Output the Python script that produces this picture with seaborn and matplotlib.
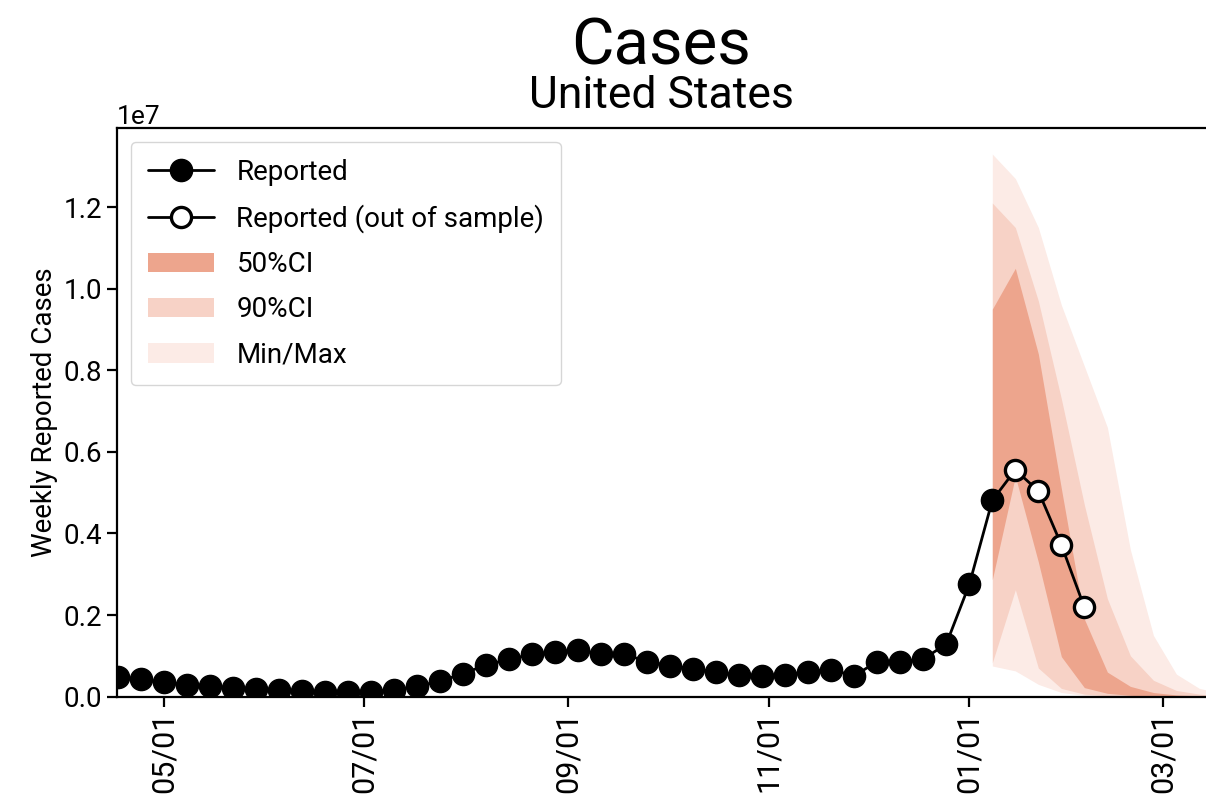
import pandas as pd
import matplotlib
matplotlib.use('Agg')
import matplotlib.pyplot as plt
import matplotlib.dates as mdates
import seaborn as sns

# weekly reported cases in millions, one value per Saturday from 2021-04-17
reported_start = '2021-04-17'
reported = [0.47, 0.42, 0.35, 0.29, 0.25, 0.21, 0.19, 0.15, 0.14, 0.12,
            0.12, 0.12, 0.17, 0.25, 0.38, 0.56, 0.78, 0.91, 1.04, 1.09,
            1.15, 1.04, 1.04, 0.86, 0.76, 0.68, 0.60, 0.52, 0.51, 0.54,
            0.61, 0.66, 0.51, 0.86, 0.86, 0.92, 1.29, 2.75, 4.81]

# out of sample weeks
oos_start = '2022-01-15'
reported_oos = [5.56, 5.04, 3.72, 2.19]

# forecast bands (millions), weekly from 2022-01-08
band_start = '2022-01-08'
ci50_low = [2.87, 5.40, 3.30, 0.98, 0.22, 0.08, 0.03, 0.01, 0.005, 0.0, 0.0]
ci50_high = [9.50, 10.50, 8.40, 5.10, 1.90, 0.60, 0.25, 0.10, 0.04, 0.02, 0.01]
ci90_low = [0.83, 2.62, 0.70, 0.20, 0.06, 0.02, 0.01, 0.0, 0.0, 0.0, 0.0]
ci90_high = [12.10, 11.50, 9.70, 7.30, 4.70, 2.40, 1.00, 0.40, 0.15, 0.06, 0.02]
mm_low = [0.75, 0.63, 0.30, 0.10, 0.03, 0.01, 0.0, 0.0, 0.0, 0.0, 0.0]
mm_high = [13.30, 12.70, 11.50, 9.60, 8.10, 6.60, 3.60, 1.50, 0.55, 0.20, 0.08]

sns.set_theme(style='ticks')
plt.rcParams['font.family'] = ['Roboto', 'DejaVu Sans']
plt.rcParams['font.size'] = 20
for key in ['text.color', 'axes.labelcolor', 'xtick.color', 'ytick.color', 'axes.edgecolor']:
    plt.rcParams[key] = 'black'
plt.rcParams['axes.linewidth'] = 1.6
plt.rcParams['xtick.major.width'] = 1.6
plt.rcParams['ytick.major.width'] = 1.6
plt.rcParams['xtick.major.size'] = 7
plt.rcParams['ytick.major.size'] = 7

rep = pd.DataFrame({'date': pd.date_range(reported_start, periods=len(reported), freq='7D'),
                    'cases': [v * 1e6 for v in reported]})
oos = pd.DataFrame({'date': pd.date_range(oos_start, periods=len(reported_oos), freq='7D'),
                    'cases': [v * 1e6 for v in reported_oos]})
band = pd.DataFrame({'date': pd.date_range(band_start, periods=len(ci50_low), freq='7D')})
for name, vals in [('l50', ci50_low), ('h50', ci50_high), ('l90', ci90_low),
                   ('h90', ci90_high), ('lmm', mm_low), ('hmm', mm_high)]:
    band[name] = [v * 1e6 for v in vals]

fig, ax = plt.subplots(figsize=(12.06, 8.1), dpi=100)
fig.subplots_adjust(left=0.097, right=1.0, bottom=0.14, top=0.842)

# bands
ax.fill_between(band['date'], band['lmm'], band['hmm'], color='#fcebe6', lw=0, label='Min/Max', zorder=1)
ax.fill_between(band['date'], band['l90'], band['h90'], color='#f7d2c6', lw=0, label='90%CI', zorder=1)
ax.fill_between(band['date'], band['l50'], band['h50'], color='#eda58d', lw=0, label='50%CI', zorder=1)

# line joining in-sample and out-of-sample
ax.plot([rep['date'].iloc[-1], oos['date'].iloc[0]], [rep['cases'].iloc[-1], oos['cases'].iloc[0]],
        color='black', lw=2, zorder=3)

sns.lineplot(data=rep, x='date', y='cases', ax=ax, color='black', lw=2, marker='o',
             markersize=16, markeredgecolor='black', markeredgewidth=1, label='Reported', zorder=4)
sns.lineplot(data=oos, x='date', y='cases', ax=ax, color='black', lw=2, marker='o',
             markersize=14.5, markerfacecolor='white', markeredgecolor='black', markeredgewidth=2.4,
             label='Reported (out of sample)', zorder=5)

handles, labels = ax.get_legend_handles_labels()
lookup = dict(zip(labels, handles))
order = ['Reported', 'Reported (out of sample)', '50%CI', '90%CI', 'Min/Max']
ax.legend([lookup[k] for k in order], order, loc='upper left', fontsize=20, handlelength=2.4,
          labelspacing=0.66, borderpad=0.6)

ax.set_xlim(pd.Timestamp('2021-04-16 17:00'), pd.Timestamp('2022-03-14'))
ax.set_ylim(0, 1.394e7)
ax.xaxis.set_major_locator(mdates.MonthLocator(bymonth=[1, 3, 5, 7, 9, 11]))
ax.xaxis.set_major_formatter(mdates.DateFormatter('%m/%d'))
ax.tick_params(axis='x', labelrotation=90, labelsize=22)
ax.tick_params(axis='y', labelsize=20)
ax.yaxis.get_offset_text().set_fontsize(19)
ax.spines['right'].set_visible(False)
ax.set_xlabel('')
ax.set_ylabel('Weekly Reported Cases', fontsize=20)

ax.text(0.5, 1.111, 'Cases', transform=ax.transAxes, ha='center', va='baseline', fontsize=47)
ax.text(0.5, 1.035, 'United States', transform=ax.transAxes, ha='center', va='baseline', fontsize=32)

plt.savefig('out.png', dpi=100)
